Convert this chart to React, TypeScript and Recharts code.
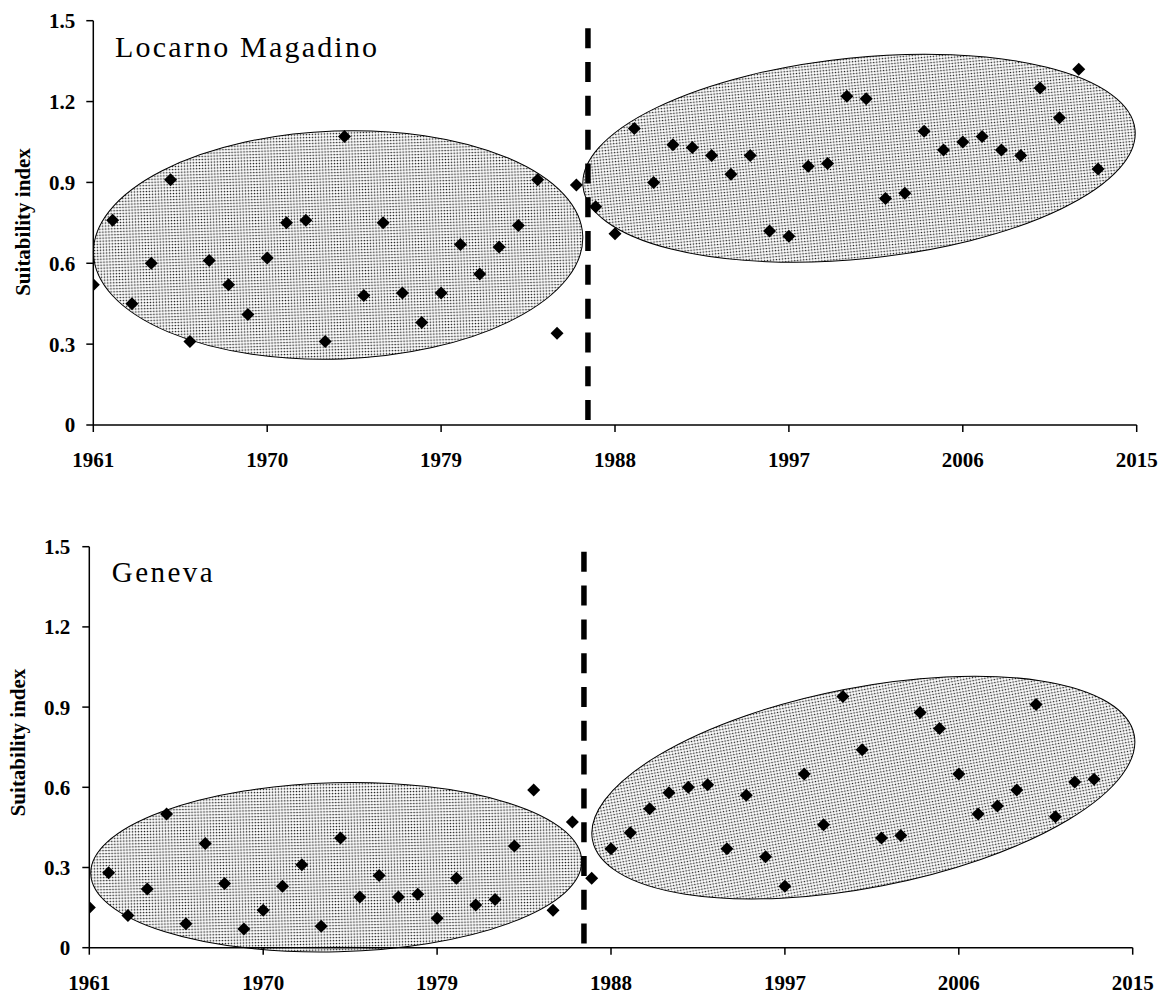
import React from 'react';
import { ScatterChart, Scatter, XAxis, YAxis, ReferenceArea, ReferenceLine } from 'recharts';

const years = [
  1961, 1962, 1963, 1964, 1965, 1966, 1967, 1968, 1969, 1970,
  1971, 1972, 1973, 1974, 1975, 1976, 1977, 1978, 1979, 1980,
  1981, 1982, 1983, 1984, 1985, 1986, 1987, 1988, 1989, 1990,
  1991, 1992, 1993, 1994, 1995, 1996, 1997, 1998, 1999, 2000,
  2001, 2002, 2003, 2004, 2005, 2006, 2007, 2008, 2009, 2010,
  2011, 2012, 2013,
];

const locarnoValues = [
  0.52, 0.76, 0.45, 0.60, 0.91, 0.31, 0.61, 0.52, 0.41, 0.62,
  0.75, 0.76, 0.31, 1.07, 0.48, 0.75, 0.49, 0.38, 0.49, 0.67,
  0.56, 0.66, 0.74, 0.91, 0.34, 0.89, 0.81, 0.71, 1.10, 0.90,
  1.04, 1.03, 1.00, 0.93, 1.00, 0.72, 0.70, 0.96, 0.97, 1.22,
  1.21, 0.84, 0.86, 1.09, 1.02, 1.05, 1.07, 1.02, 1.00, 1.25,
  1.14, 1.32, 0.95,
];

const genevaValues = [
  0.15, 0.28, 0.12, 0.22, 0.50, 0.09, 0.39, 0.24, 0.07, 0.14,
  0.23, 0.31, 0.08, 0.41, 0.19, 0.27, 0.19, 0.20, 0.11, 0.26,
  0.16, 0.18, 0.38, 0.59, 0.14, 0.47, 0.26, 0.37, 0.43, 0.52,
  0.58, 0.60, 0.61, 0.37, 0.57, 0.34, 0.23, 0.65, 0.46, 0.94,
  0.74, 0.41, 0.42, 0.88, 0.82, 0.65, 0.50, 0.53, 0.59, 0.91,
  0.49, 0.62, 0.63,
];

const xTicks = [1961, 1970, 1979, 1988, 1997, 2006, 2015];
const yTicks = [0, 0.3, 0.6, 0.9, 1.2, 1.5];
const yTickLabels = ['0', '0.3', '0.6', '0.9', '1.2', '1.5'];
const xDomain = [1961, 2015];
const yDomain = [0, 1.5];
const breakYear = 1986.6;
const breakSpanTop = [1.472, 0.017];
const breakSpanBottom = [1.481, 0.016];

// ellipses: centre year, centre index, half-width (years), half-height (index), tilt (deg)
const locarnoEllipseCx = [1973.67, 2000.63];
const locarnoEllipseCy = [0.668, 0.99];
const locarnoEllipseRx = [12.67, 14.36];
const locarnoEllipseRy = [0.423, 0.373];
const locarnoEllipseTilt = [-2.1, -5.9];

const genevaEllipseCx = [1973.78, 2001.06];
const genevaEllipseCy = [0.301, 0.599];
const genevaEllipseRx = [12.71, 14.28];
const genevaEllipseRy = [0.316, 0.374];
const genevaEllipseTilt = [-1.5, -11];

const FONT = "'Liberation Serif', 'Times New Roman', Times, serif";

const Diamond = (props: any) => {
  const { cx, cy } = props;
  if (cx == null || cy == null) return null;
  const r = 6.5;
  return (
    <polygon
      points={`${cx},${cy - r} ${cx + r},${cy} ${cx},${cy + r} ${cx - r},${cy}`}
      fill="#000"
    />
  );
};

const makeEllipseShape = (tilt: number) => (props: any) => {
  const { x, y, width, height } = props;
  const cx = x + width / 2;
  const cy = y + height / 2;
  return (
    <ellipse
      cx={cx}
      cy={cy}
      rx={Math.abs(width) / 2}
      ry={Math.abs(height) / 2}
      transform={`rotate(${tilt} ${cx} ${cy})`}
      fill="url(#stipple)"
      stroke="#000"
      strokeWidth={1}
    />
  );
};

type PanelProps = {
  values: number[];
  ex: number[];
  ey: number[];
  erx: number[];
  ery: number[];
  etilt: number[];
  span: number[];
  height: number;
  margin: { top: number; right: number; left: number; bottom: number };
  yTickMargin: number;
  xAxisHeight: number;
};

function Panel(p: PanelProps) {
  const data = years.map((yr, i) => ({ year: yr, value: p.values[i] }));
  const tickStyle = { fontFamily: FONT, fontSize: 21, fontWeight: 700, fill: '#000' };
  return (
    <ScatterChart width={1165} height={p.height} margin={p.margin}>
      <XAxis
        xAxisId="top"
        orientation="top"
        type="number"
        domain={xDomain}
        allowDataOverflow
        tick={false}
        tickLine={false}
        height={0}
        axisLine={{ stroke: '#a0a0a0', strokeWidth: 1.5 }}
      />
      <YAxis
        yAxisId="right"
        orientation="right"
        type="number"
        domain={yDomain}
        allowDataOverflow
        tick={false}
        tickLine={false}
        width={0}
        axisLine={{ stroke: '#a0a0a0', strokeWidth: 1.5 }}
      />
      <XAxis
        dataKey="year"
        type="number"
        domain={xDomain}
        allowDataOverflow
        ticks={xTicks}
        interval={0}
        tickSize={7}
        tickMargin={20}
        height={p.xAxisHeight}
        axisLine={{ stroke: '#000', strokeWidth: 1.5 }}
        tickLine={{ stroke: '#000', strokeWidth: 1.5 }}
        tick={tickStyle}
      />
      <YAxis
        dataKey="value"
        type="number"
        domain={yDomain}
        allowDataOverflow
        ticks={yTicks}
        interval={0}
        width={60}
        tickSize={7}
        tickMargin={p.yTickMargin}
        tickFormatter={(v: number) => yTickLabels[yTicks.indexOf(v)] ?? String(v)}
        axisLine={{ stroke: '#000', strokeWidth: 1.5 }}
        tickLine={{ stroke: '#000', strokeWidth: 1.5 }}
        tick={tickStyle}
      />
      {p.ex.map((cx, i) => (
        <ReferenceArea
          key={'e' + i}
          x1={cx - p.erx[i]}
          x2={cx + p.erx[i]}
          y1={p.ey[i] - p.ery[i]}
          y2={p.ey[i] + p.ery[i]}
          ifOverflow="visible"
          shape={makeEllipseShape(p.etilt[i])}
        />
      ))}
      <Scatter data={data} dataKey="value" shape={Diamond} isAnimationActive={false} />
      <ReferenceLine
        segment={[
          { x: breakYear, y: p.span[0] },
          { x: breakYear, y: p.span[1] },
        ]}
        stroke="#000"
        strokeWidth={5.5}
        strokeDasharray="20 13.8"
        ifOverflow="visible"
      />
    </ScatterChart>
  );
}

export default function App() {
  return (
    <div
      style={{
        position: 'absolute',
        left: 0,
        top: 0,
        width: 1165,
        height: 994,
        background: '#fff',
        overflow: 'hidden',
      }}
    >
      <svg width={0} height={0} style={{ position: 'absolute' }}>
        <defs>
          <pattern id="stipple" patternUnits="userSpaceOnUse" width={3} height={3}>
            <rect x={0} y={0} width={3} height={3} fill="#fff" />
            <circle cx={1.5} cy={1.5} r={0.85} fill="#1a1a1a" />
          </pattern>
        </defs>
      </svg>
      <div style={{ position: 'absolute', left: 0, top: 0 }}>
        <Panel
          values={locarnoValues}
          ex={locarnoEllipseCx}
          ey={locarnoEllipseCy}
          erx={locarnoEllipseRx}
          ery={locarnoEllipseRy}
          etilt={locarnoEllipseTilt}
          span={breakSpanTop}
          height={480}
          margin={{ top: 20.7, right: 28.3, left: 33.3, bottom: 5 }}
          yTickMargin={11}
          xAxisHeight={50}
        />
      </div>
      <div style={{ position: 'absolute', left: 0, top: 480 }}>
        <Panel
          values={genevaValues}
          ex={genevaEllipseCx}
          ey={genevaEllipseCy}
          erx={genevaEllipseRx}
          ery={genevaEllipseRy}
          etilt={genevaEllipseTilt}
          span={breakSpanBottom}
          height={514}
          margin={{ top: 66.7, right: 32.3, left: 29.3, bottom: 6.3 }}
          yTickMargin={12}
          xAxisHeight={40}
        />
      </div>
      <svg
        width={1165}
        height={994}
        style={{ position: 'absolute', left: 0, top: 0, pointerEvents: 'none' }}
      >
        <text x={115} y={56.7} fontFamily={FONT} fontSize={30} letterSpacing={2.2} fill="#000">
          Locarno Magadino
        </text>
        <text x={111.7} y={581.7} fontFamily={FONT} fontSize={29} letterSpacing={2.5} fill="#000">
          Geneva
        </text>
        <text
          x={23}
          y={222}
          transform="rotate(-90 23 222)"
          textAnchor="middle"
          dominantBaseline="central"
          fontFamily={FONT}
          fontSize={21}
          fontWeight={700}
          fill="#000"
        >
          Suitability index
        </text>
        <text
          x={18}
          y={742.5}
          transform="rotate(-90 18 742.5)"
          textAnchor="middle"
          dominantBaseline="central"
          fontFamily={FONT}
          fontSize={21}
          fontWeight={700}
          fill="#000"
        >
          Suitability index
        </text>
      </svg>
    </div>
  );
}
